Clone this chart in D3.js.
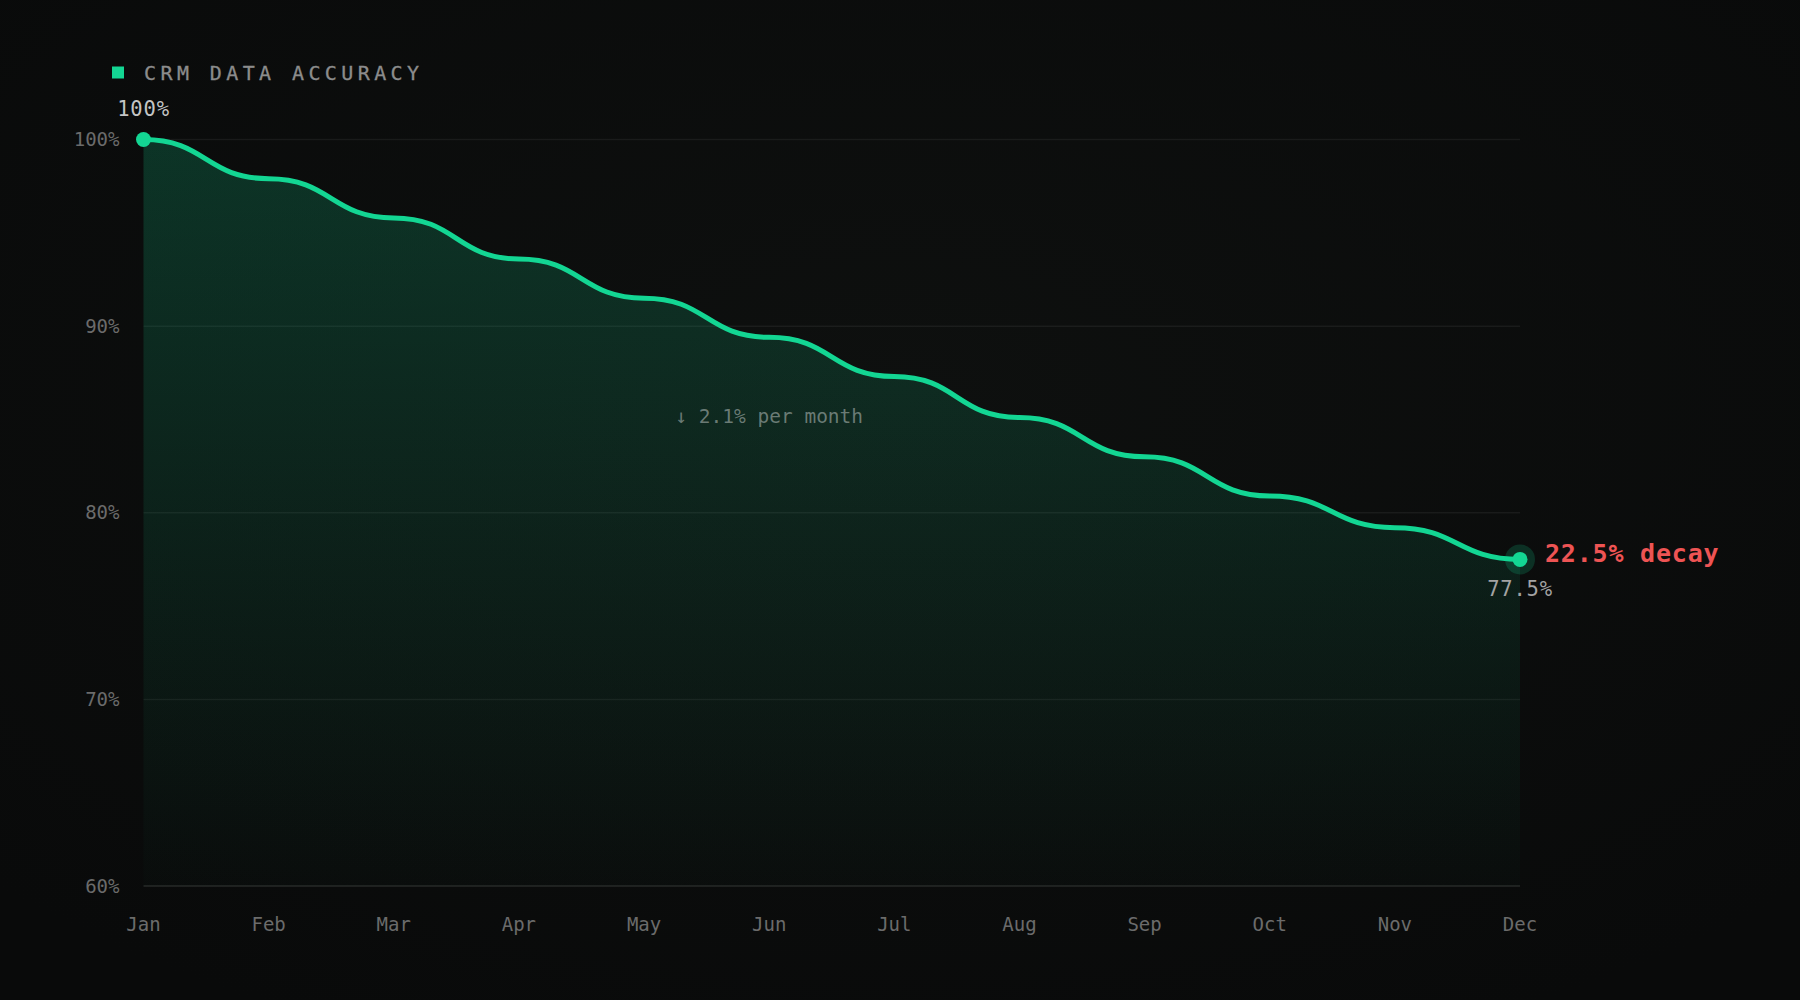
<!DOCTYPE html>
<html>
<head>
<meta charset="utf-8">
<script src="https://cdn.jsdelivr.net/npm/d3@7"></script>
<style>
	html, body { margin: 0; padding: 0; background: #0a0b0b; }
	svg text { font-family: "DejaVu Sans Mono", "Liberation Mono", monospace; }
</style>
</head>
<body>
<div id="chart"></div>
<script>
// month labels along the bottom
var months = ["Jan", "Feb", "Mar", "Apr", "May", "Jun", "Jul", "Aug", "Sep", "Oct", "Nov", "Dec"];
// accuracy in % at each month
var accuracy = [100, 97.9, 95.8, 93.6, 91.5, 89.4, 87.3, 85.1, 83.0, 80.9, 79.2, 77.5];
// y axis ticks
var yTicks = [60, 70, 80, 90, 100];
// monthly drop as printed on the chart
var perMonthLabel = "2.1%";

(function() {
	var width = 1800,
		height = 1000,
		margin = { top: 139.5, left: 143.5, right: 280, bottom: 114 };

	var svg = d3.select("#chart")
				.append("svg")
				.attr("width", width)
				.attr("height", height);

	var defs = svg.append("defs");

	// faint glow in the middle of the page
	var bg = defs.append("radialGradient")
				.attr("id", "bg")
				.attr("cx", "50%").attr("cy", "40%").attr("r", "70%");
	bg.append("stop").attr("offset", "0%").attr("stop-color", "#0e100f");
	bg.append("stop").attr("offset", "100%").attr("stop-color", "#090a0a");

	var fill = defs.append("linearGradient")
				.attr("id", "area-fill")
				.attr("x1", 0).attr("y1", 0).attr("x2", 0).attr("y2", 1);
	fill.append("stop").attr("offset", "0%").attr("stop-color", "#13d693").attr("stop-opacity", 0.2);
	fill.append("stop").attr("offset", "100%").attr("stop-color", "#13d693").attr("stop-opacity", 0.01);

	svg.append("rect")
		.attr("width", width)
		.attr("height", height)
		.attr("fill", "url(#bg)");

	// scales
	var xScale = d3.scalePoint()
				.domain(months)
				.range([margin.left, width - margin.right]);

	var yScale = d3.scaleLinear()
				.domain([60, 100])
				.range([height - margin.bottom, margin.top]);

	var data = months.map(function(m, i) {
		return { month: m, value: accuracy[i] };
	});

	// gridlines
	svg.selectAll(".grid")
		.data(yTicks)
		.enter()
		.append("line")
		.attr("class", "grid")
		.attr("x1", xScale.range()[0])
		.attr("x2", xScale.range()[1])
		.attr("y1", function(d) { return yScale(d); })
		.attr("y2", function(d) { return yScale(d); })
		.attr("stroke", function(d) { return d === 60 ? "#1f2120" : "rgba(255,255,255,0.06)"; })
		.attr("stroke-width", function(d) { return d === 60 ? 2 : 1.5; });

	// area + line
	var area = d3.area()
				.x(function(d) { return xScale(d.month); })
				.y0(yScale(60))
				.y1(function(d) { return yScale(d.value); })
				.curve(d3.curveBumpX);

	var line = d3.line()
				.x(function(d) { return xScale(d.month); })
				.y(function(d) { return yScale(d.value); })
				.curve(d3.curveBumpX);

	svg.append("path")
		.datum(data)
		.attr("d", area)
		.attr("fill", "url(#area-fill)");

	svg.append("path")
		.datum(data)
		.attr("d", line)
		.attr("fill", "none")
		.attr("stroke", "#13d693")
		.attr("stroke-width", 5)
		.attr("stroke-linecap", "round");

	// y axis labels
	svg.selectAll(".y-label")
		.data(yTicks)
		.enter()
		.append("text")
		.attr("class", "y-label")
		.attr("x", margin.left - 24)
		.attr("y", function(d) { return yScale(d); })
		.attr("dy", "0.35em")
		.attr("text-anchor", "end")
		.attr("fill", "#6b6b6b")
		.attr("font-size", 19)
		.text(function(d) { return d + "%"; });

	// x axis labels
	svg.selectAll(".x-label")
		.data(months)
		.enter()
		.append("text")
		.attr("class", "x-label")
		.attr("x", function(d) { return xScale(d); })
		.attr("y", 931)
		.attr("text-anchor", "middle")
		.attr("fill", "#6b6b6b")
		.attr("font-size", 19)
		.text(function(d) { return d; });

	// legend
	svg.append("rect")
		.attr("x", 112)
		.attr("y", 66.5)
		.attr("width", 12)
		.attr("height", 12)
		.attr("fill", "#13d693");

	svg.append("text")
		.attr("x", 144)
		.attr("y", 80)
		.attr("fill", "#8c8c8c")
		.attr("font-size", 20)
		.attr("letter-spacing", 4.4)
		.attr("stroke", "#8c8c8c")
		.attr("stroke-width", 0.3)
		.text("CRM DATA ACCURACY");

	var first = data[0],
		last = data[data.length - 1];

	// start point
	svg.append("circle")
		.attr("cx", xScale(first.month))
		.attr("cy", yScale(first.value))
		.attr("r", 7.5)
		.attr("fill", "#13d693");

	svg.append("text")
		.attr("x", xScale(first.month))
		.attr("y", yScale(first.value) - 24)
		.attr("text-anchor", "middle")
		.attr("fill", "#c4c4c4")
		.attr("font-size", 20.5)
		.attr("letter-spacing", 0.8)
		.text(first.value + "%");

	// end point with halo
	svg.append("circle")
		.attr("cx", xScale(last.month))
		.attr("cy", yScale(last.value))
		.attr("r", 15)
		.attr("fill", "#13d693")
		.attr("fill-opacity", 0.18);

	svg.append("circle")
		.attr("cx", xScale(last.month))
		.attr("cy", yScale(last.value))
		.attr("r", 7.5)
		.attr("fill", "#13d693");

	svg.append("text")
		.attr("x", xScale(last.month))
		.attr("y", yScale(last.value) + 37)
		.attr("text-anchor", "middle")
		.attr("fill", "#a3a3a3")
		.attr("font-size", 20.5)
		.attr("letter-spacing", 0.8)
		.text(last.value + "%");

	svg.append("text")
		.attr("x", xScale(last.month) + 25)
		.attr("y", yScale(last.value) + 3)
		.attr("fill", "#ee5454")
		.attr("font-size", 25)
		.attr("font-weight", "bold")
		.attr("letter-spacing", 0.8)
		.text((first.value - last.value).toFixed(1) + "% decay");

	// average monthly drop, centred on Jun
	svg.append("text")
		.attr("x", xScale("Jun"))
		.attr("y", yScale(84.8))
		.attr("text-anchor", "middle")
		.attr("fill", "#7c8a85")
		.attr("fill-opacity", 0.85)
		.attr("font-size", 19.5)
		.text("\u2193 " + perMonthLabel + " per month");

})();
</script>
</body>
</html>
